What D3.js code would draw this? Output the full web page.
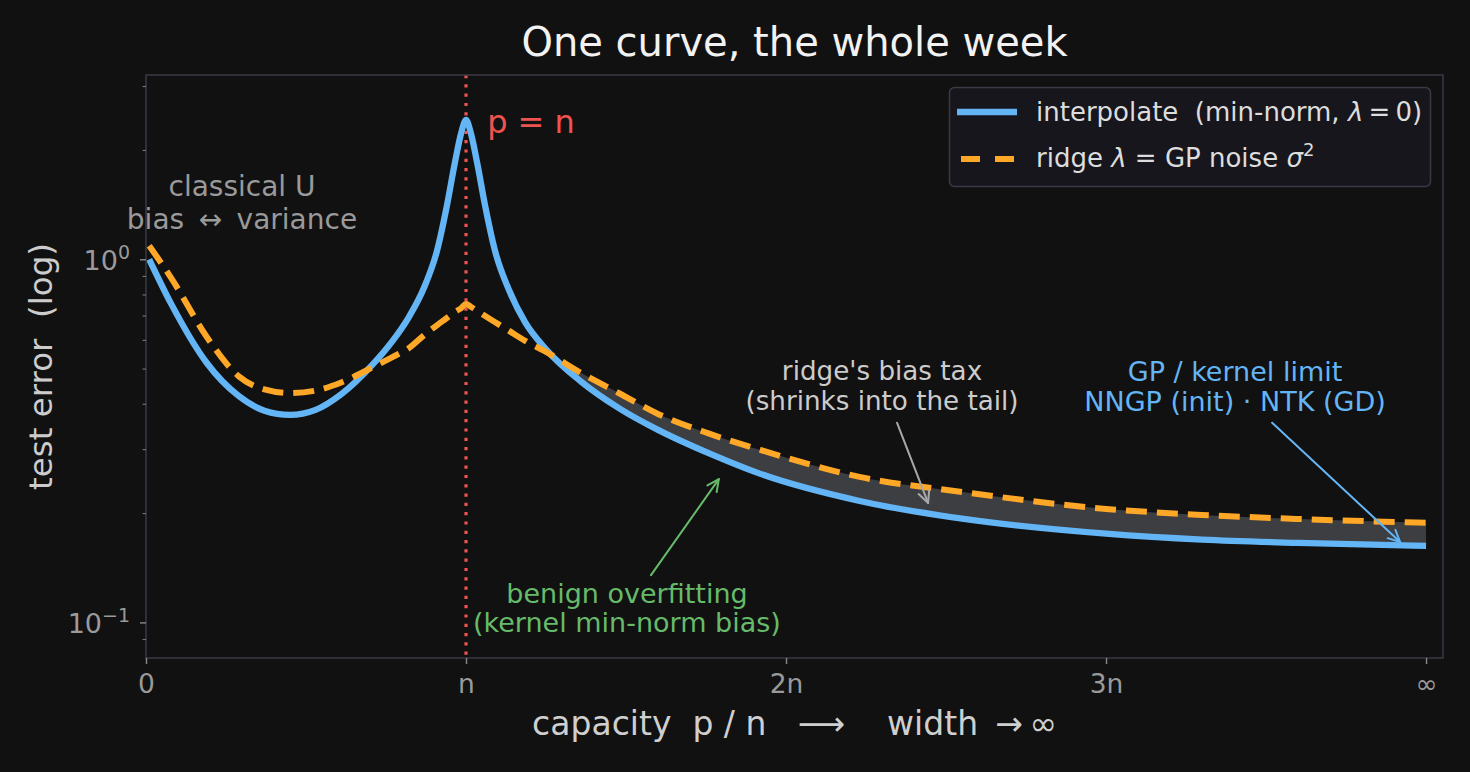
<!DOCTYPE html>
<html>
<head>
<meta charset="utf-8">
<script src="https://cdn.jsdelivr.net/npm/d3@7"></script>
<style>
  html, body { margin: 0; padding: 0; background: #111111; }
  svg text { font-family: "DejaVu Sans", sans-serif; white-space: pre; }
</style>
</head>
<body>
<div class="canva"></div>
<script>
// capacity p/n (4 = the width -> infinity end of the axis)
const capacity = [0.01, 0.08, 0.19, 0.29, 0.37, 0.45, 0.53, 0.61, 0.71, 0.77,
                  0.82, 0.87, 0.91, 0.94, 0.965, 0.985, 1.0, 1.015, 1.035, 1.06,
                  1.09, 1.135, 1.185, 1.25, 1.36, 1.48, 1.6, 1.76, 1.92, 2.23,
                  2.55, 3.0, 3.3, 3.6, 4.0];
// test error, min-norm interpolation (lambda = 0)
const interpErr = [1.0, 0.75, 0.518, 0.42, 0.383, 0.373, 0.385, 0.425, 0.515, 0.595,
                   0.69, 0.84, 1.06, 1.40, 1.84, 2.23, 2.42, 2.23, 1.84, 1.40,
                   1.06, 0.82, 0.67, 0.565, 0.46, 0.388, 0.339, 0.292, 0.2565, 0.216,
                   0.193, 0.1755, 0.169, 0.1655, 0.1625];
// test error, ridge with lambda = GP noise
const ridgeErr = [1.09, 0.885, 0.611, 0.476, 0.438, 0.428, 0.435, 0.458, 0.505, 0.538,
                  0.568, 0.619, 0.659, 0.689, 0.716, 0.734, 0.753, 0.74, 0.721, 0.698,
                  0.672, 0.635, 0.596, 0.556, 0.486, 0.427, 0.375, 0.331, 0.2985, 0.2516,
                  0.2287, 0.2054, 0.1977, 0.1927, 0.188];

const xTicks = [0, 1, 2, 3, 4];
const xTickLabels = ["0", "n", "2n", "3n", "\u221e"];
const yMajor = [0.1, 1];
const yMajorExp = ["\u22121", "0"];
const yMinor = [0.09, 0.2, 0.3, 0.4, 0.5, 0.6, 0.7, 0.8, 0.9, 2, 3];

const W = 1470, H = 772;
const m = { left: 146, right: 1443, top: 75, bottom: 658 };

const svg = d3.select(".canva").append("svg")
    .attr("width", W)
    .attr("height", H)
    .style("display", "block")
    .style("background", "#111111");

const x = d3.scaleLinear().domain([0, 4.053]).range([m.left, m.right]);
const y = d3.scaleLog().domain([0.0798, 3.217]).range([m.bottom, m.top]);

const data = capacity.map((c, i) => ({ c: c, a: interpErr[i], r: ridgeErr[i] }));

svg.append("defs").append("clipPath").attr("id", "plot")
  .append("rect")
    .attr("x", m.left).attr("y", m.top)
    .attr("width", m.right - m.left).attr("height", m.bottom - m.top);

const plot = svg.append("g").attr("clip-path", "url(#plot)");

// shaded gap where ridge pays its bias tax
const gap = d3.area()
    .x(d => x(d.c))
    .y0(d => y(d.a))
    .y1(d => y(d.r))
    .curve(d3.curveMonotoneX);

plot.append("path")
    .datum(data.filter(d => d.c >= 1.25))
    .attr("d", gap)
    .attr("fill", "#3d3e42");

// p = n line
plot.append("line")
    .attr("x1", x(1)).attr("x2", x(1))
    .attr("y1", m.top).attr("y2", m.bottom)
    .attr("stroke", "#ef5350")
    .attr("stroke-width", 3.2)
    .attr("stroke-dasharray", "3.2 6.1");

const line = key => d3.line()
    .x(d => x(d.c))
    .y(d => y(d[key]))
    .curve(d3.curveMonotoneX);

plot.append("path")
    .datum(data)
    .attr("d", line("a"))
    .attr("fill", "none")
    .attr("stroke", "#64b5f6")
    .attr("stroke-width", 6.3);

plot.append("path")
    .datum(data)
    .attr("d", line("r"))
    .attr("fill", "none")
    .attr("stroke", "#ffa726")
    .attr("stroke-width", 6)
    .attr("stroke-dasharray", "21 10");

// spines
svg.append("rect")
    .attr("x", m.left).attr("y", m.top)
    .attr("width", m.right - m.left).attr("height", m.bottom - m.top)
    .attr("fill", "none")
    .attr("stroke", "#3a3a44")
    .attr("stroke-width", 1.5);

// x axis
const xAxis = svg.append("g")
    .attr("transform", "translate(0," + m.bottom + ")")
    .call(d3.axisBottom(x).tickValues(xTicks)
        .tickFormat((d, i) => xTickLabels[i]).tickSize(6).tickPadding(10));
xAxis.select(".domain").remove();
xAxis.selectAll("line").attr("stroke", "#8a8a8a").attr("stroke-width", 1.4);
xAxis.selectAll("text")
    .attr("fill", "#9a9a9a")
    .style("font-size", "26.5px")
    .style("font-family", "DejaVu Sans");

// y axis, log ticks
const yAxis = svg.append("g")
    .attr("transform", "translate(" + m.left + ",0)")
    .call(d3.axisLeft(y).tickValues(yMajor).tickFormat("").tickSize(6));
yAxis.select(".domain").remove();
yAxis.selectAll("line").attr("stroke", "#8a8a8a").attr("stroke-width", 1.4);

const yMinorAxis = svg.append("g")
    .attr("transform", "translate(" + m.left + ",0)")
    .call(d3.axisLeft(y).tickValues(yMinor).tickFormat("").tickSize(3.5));
yMinorAxis.select(".domain").remove();
yMinorAxis.selectAll("line").attr("stroke", "#777777").attr("stroke-width", 1.1);

const yLab = svg.append("g").selectAll("text")
    .data(yMajor)
    .join("text")
    .attr("x", m.left - 16)
    .attr("y", d => y(d) + 10.5)
    .attr("text-anchor", "end")
    .attr("fill", "#9a9a9a")
    .style("font-size", "27px");
yLab.append("tspan").text("10");
yLab.append("tspan")
    .attr("dy", -11)
    .style("font-size", "19px")
    .text((d, i) => yMajorExp[i]);

// titles
svg.append("text")
    .attr("x", (m.left + m.right) / 2).attr("y", 56)
    .attr("text-anchor", "middle")
    .attr("fill", "#f2f2f2")
    .style("font-size", "40px")
    .text("One curve, the whole week");

svg.append("text")
    .attr("x", (m.left + m.right) / 2).attr("y", 735)
    .attr("text-anchor", "middle")
    .attr("fill", "#cfcfcf")
    .style("font-size", "33px")
    .text("capacity  p / n   \u27f6    width \u2009\u2192\u2009\u221e");

svg.append("text")
    .attr("transform", "translate(52," + (m.top + m.bottom) / 2 + ") rotate(-90)")
    .attr("text-anchor", "middle")
    .attr("fill", "#cccccc")
    .style("font-size", "32.5px")
    .text("test error  (log)");

// annotations
function lines(px, py, texts, color, size, gapPx) {
  const t = svg.append("text")
      .attr("text-anchor", "middle")
      .attr("fill", color)
      .style("font-size", size + "px");
  texts.forEach((s, i) => {
    t.append("tspan").attr("x", px).attr("y", py + i * gapPx).text(s);
  });
}

function arrow(c0, e0, c1, e1, color) {
  const x0 = x(c0), y0 = y(e0), x1 = x(c1), y1 = y(e1);
  const ang = Math.atan2(y1 - y0, x1 - x0);
  const hl = 13, ha = 0.45;
  const g = svg.append("g")
      .attr("fill", "none")
      .attr("stroke", color)
      .attr("stroke-width", 2)
      .attr("stroke-linecap", "round")
      .attr("stroke-linejoin", "round");
  g.append("line").attr("x1", x0).attr("y1", y0).attr("x2", x1).attr("y2", y1);
  g.append("path").attr("d",
      "M" + (x1 - hl * Math.cos(ang - ha)) + "," + (y1 - hl * Math.sin(ang - ha)) +
      "L" + x1 + "," + y1 +
      "L" + (x1 - hl * Math.cos(ang + ha)) + "," + (y1 - hl * Math.sin(ang + ha)));
}

lines(x(0.3), y(1.494), ["classical U", "bias \u2009\u2194\u2009 variance"], "#9a9a9a", 28, 33);

svg.append("text")
    .attr("x", x(1.066)).attr("y", y(2.227))
    .attr("fill", "#ef5350")
    .style("font-size", "32px")
    .text("p = n");

arrow(1.578, 0.135, 1.79, 0.248, "#66bb6a");
lines(x(1.503), y(0.1132), ["benign overfitting", "(kernel min-norm bias)"], "#66bb6a", 27, 29);

arrow(2.347, 0.3546, 2.444, 0.2133, "#a8a8a8");
lines(x(2.3), y(0.465), ["ridge's bias tax", "(shrinks into the tail)"], "#cccccc", 26.2, 30);

arrow(3.519, 0.3546, 3.919, 0.1665, "#64b5f6");
lines(x(3.403), y(0.463), ["GP / kernel limit", "NNGP (init) \u00b7 NTK (GD)"], "#64b5f6", 27, 30);

// legend
const leg = svg.append("g");
leg.append("rect")
    .attr("x", 949.5).attr("y", 87.5)
    .attr("width", 481).attr("height", 99)
    .attr("rx", 5)
    .attr("fill", "#17161d")
    .attr("stroke", "#3a3946")
    .attr("stroke-width", 1.5);
leg.append("line")
    .attr("x1", 957).attr("x2", 1017).attr("y1", 112).attr("y2", 112)
    .attr("stroke", "#64b5f6").attr("stroke-width", 6.3);
leg.append("line")
    .attr("x1", 961).attr("x2", 1014).attr("y1", 159).attr("y2", 159)
    .attr("stroke", "#ffa726").attr("stroke-width", 6)
    .attr("stroke-dasharray", "19 15");

const l1 = leg.append("text")
    .attr("x", 1036).attr("y", 121)
    .attr("fill", "#dddddd")
    .style("font-size", "26px");
l1.append("tspan").text("interpolate  (min-norm, ");
l1.append("tspan").style("font-style", "italic").text("\u03bb");
l1.append("tspan").text("\u2009=\u20090)");

const l2 = leg.append("text")
    .attr("x", 1036).attr("y", 167)
    .attr("fill", "#dddddd")
    .style("font-size", "26px");
l2.append("tspan").text("ridge ");
l2.append("tspan").style("font-style", "italic").text("\u03bb");
l2.append("tspan").text(" = GP noise ");
l2.append("tspan").style("font-style", "italic").text("\u03c3");
l2.append("tspan").attr("dy", -11).style("font-size", "18px").text("2");
</script>
</body>
</html>
